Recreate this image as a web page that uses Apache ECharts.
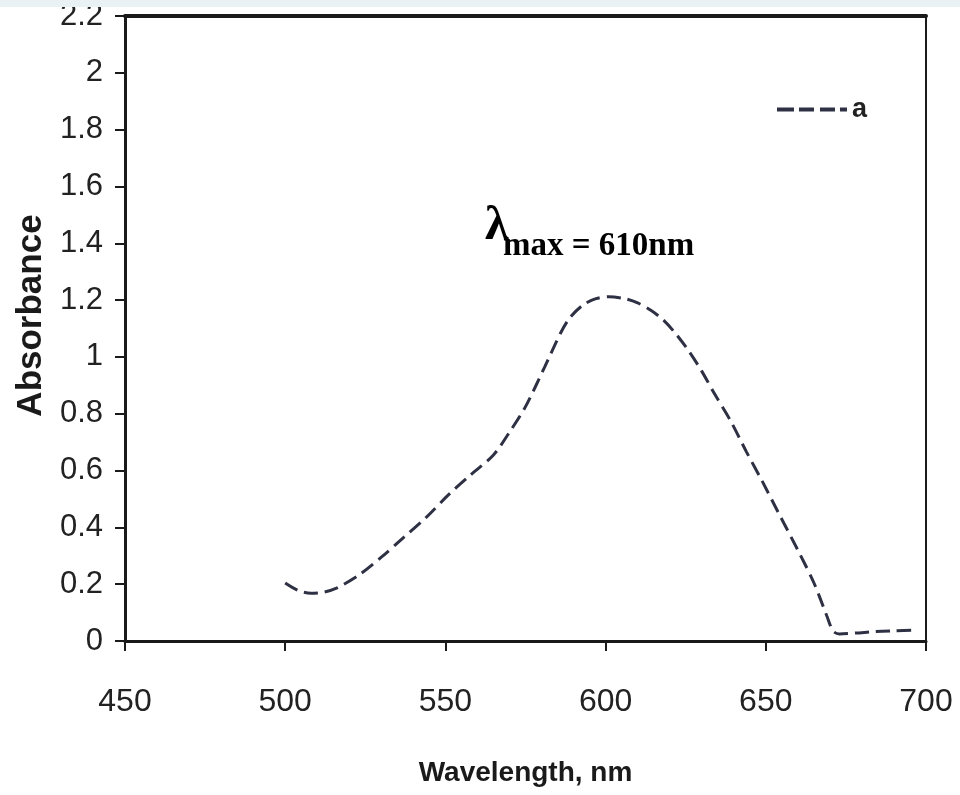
<!DOCTYPE html>
<html>
<head>
<meta charset="utf-8">
<script src="https://cdn.jsdelivr.net/npm/echarts@6/dist/echarts.min.js"></script>
<style>
  html, body { margin: 0; padding: 0; background: #fff; }
  #main { width: 960px; height: 795px; }
</style>
</head>
<body>
<div id="main"></div>
<script>
// wavelength (nm)
var wavelength = [500, 504, 508, 512, 516, 523, 530, 537, 544, 551, 558, 565, 570, 575, 581, 586, 589, 593, 597, 601, 606,
    610, 614, 618, 622, 626, 630, 634, 639, 644, 649, 654, 660, 665, 669, 671, 673, 678, 684, 690, 697];
// absorbance for series "a"
var absorbanceA = [0.204, 0.178, 0.168, 0.172, 0.186, 0.232, 0.295, 0.365, 0.435, 0.515, 0.586, 0.655, 0.735, 0.825, 0.965, 1.085, 1.14, 1.183, 1.205, 1.212, 1.205,
    1.19, 1.165, 1.13, 1.08, 1.02, 0.95, 0.87, 0.775, 0.665, 0.56, 0.45, 0.32, 0.205, 0.09, 0.035, 0.025, 0.028, 0.033, 0.036, 0.038];
var seriesName = 'a';
var xTicks = { min: 450, max: 700, step: 50 };
var yTicks = { min: 0, max: 2.2, step: 0.2 };

var sans = "'Liberation Sans', Arial, sans-serif";
var serif = "'Liberation Serif', 'Times New Roman', serif";
var ink = '#2e3044';

var chart = echarts.init(document.getElementById('main'));

var points = wavelength.map(function (w, i) { return [w, absorbanceA[i]]; });

chart.setOption({
    backgroundColor: '#ffffff',
    animation: false,
    grid: { left: 125, right: 34, top: 16, bottom: 154 },
    legend: {
        right: 88,
        top: 91,
        itemWidth: 70,
        itemHeight: 4,
        itemGap: 0,
        icon: 'path://M0,0h17v4h-17z M22,0h15v4h-15z M43,0h15v4h-15z M63,0h7v4h-7z',
        itemStyle: { color: ink },
        textStyle: { fontFamily: sans, fontWeight: 'bold', fontSize: 27, color: '#222' },
        data: [seriesName]
    },
    xAxis: [{
        type: 'value',
        min: xTicks.min,
        max: xTicks.max,
        interval: xTicks.step,
        name: 'Wavelength, nm',
        nameLocation: 'middle',
        nameGap: 118,
        nameTextStyle: { fontFamily: sans, fontWeight: 'bold', fontSize: 28, color: '#1a1a1a' },
        axisLine: { onZero: false, lineStyle: { color: '#1a1a1a', width: 3 } },
        axisTick: { show: true, length: 10, lineStyle: { color: '#1a1a1a', width: 2 } },
        axisLabel: { margin: 45, fontFamily: sans, fontSize: 32, color: '#222' },
        splitLine: { show: false }
    }, {
        type: 'value',
        position: 'top',
        min: xTicks.min,
        max: xTicks.max,
        axisLine: { onZero: false, lineStyle: { color: '#1a1a1a', width: 4 } },
        axisTick: { show: false },
        axisLabel: { show: false },
        splitLine: { show: false }
    }],
    yAxis: [{
        type: 'value',
        min: yTicks.min,
        max: yTicks.max,
        interval: yTicks.step,
        name: 'Absorbance',
        nameLocation: 'middle',
        nameGap: 76,
        nameRotate: 90,
        nameTextStyle: { fontFamily: sans, fontWeight: 'bold', fontSize: 35, color: '#1a1a1a', padding: [0, 0, 0, 26] },
        axisLine: { show: true, onZero: false, lineStyle: { color: '#1a1a1a', width: 3 } },
        axisTick: { show: true, length: 10, lineStyle: { color: '#1a1a1a', width: 2 } },
        axisLabel: { margin: 22, fontFamily: sans, fontSize: 31, color: '#222' },
        splitLine: { show: false }
    }, {
        type: 'value',
        position: 'right',
        min: yTicks.min,
        max: yTicks.max,
        axisLine: { show: true, onZero: false, lineStyle: { color: '#1a1a1a', width: 2 } },
        axisTick: { show: false },
        axisLabel: { show: false },
        splitLine: { show: false }
    }],
    series: [{
        name: seriesName,
        type: 'line',
        data: points,
        smooth: 0.3,
        symbol: 'none',
        lineStyle: { color: ink, width: 3, type: [14, 7] },
        itemStyle: { color: ink }
    }],
    graphic: [
        { type: 'rect', left: 0, top: 0, z: 100, shape: { width: 960, height: 7 }, style: { fill: '#e9f1f5' } },
        { type: 'text', left: 485, top: 203, z: 50,
          style: { text: 'λ', font: 'bold 48px ' + serif, fill: '#000' } },
        { type: 'text', left: 503, top: 230, z: 50,
          style: { text: 'max = 610nm', font: 'bold 33px ' + serif, fill: '#000' } }
    ]
});
</script>
</body>
</html>
